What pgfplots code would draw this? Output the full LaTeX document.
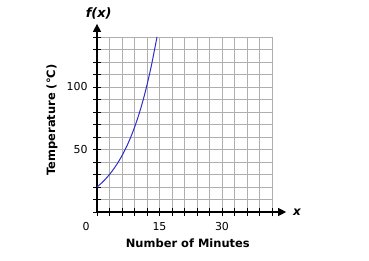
\documentclass[border=0pt]{standalone}
\usepackage{pgfplots}
\pgfplotsset{compat=1.18}
\usepackage{fontspec}
\setmainfont{DejaVu Sans}
\usetikzlibrary{arrows.meta}
\definecolor{curveblue}{RGB}{45,45,200}
\definecolor{gridgray}{RGB}{175,175,175}
\begin{document}
\begin{tikzpicture}[x=1bp,y=1bp]
\path[use as bounding box] (-97,-49) rectangle (272,212);
\begin{axis}[
  at={(0,0)}, anchor=south west, scale only axis,
  width=175bp, height=175bp,
  xmin=0, xmax=42, ymin=0, ymax=140,
  axis lines=left, axis line style={-, black, line width=1.2pt},
  clip=false,
  xtick={0,3,...,42},
  xticklabels={,,,,,15,,,,,30,,,,},
  ytick={0,10,...,140},
  yticklabels={,,,,,50,,,,,100,,,,},
  tick align=center, major tick length=8bp,
  tick style={black, line width=0.9pt},
  grid=major, grid style={gridgray, line width=0.6pt},
  /pgf/number format/assume math mode=true,
  ticklabel style={font=\fontsize{11}{13}\selectfont},
  xticklabel style={yshift=-3bp},
  yticklabel style={xshift=-2bp},
]
\addplot[curveblue, line width=1pt, smooth] coordinates {
(0,20) (1,22.9) (2,26.2) (3,30.0) (4,34.4) (5,39.4) (6,45.1) (7,51.6)
(8,59.1) (9,67.7) (10,77.5) (11,88.7) (12,101.6) (13,116.3) (14,133.1) (14.4,140)
};
\draw[black, line width=1.2pt, -{Triangle[length=8bp,width=8bp]}] (axis cs:42,0) -- (axis cs:45.4,0);
\draw[black, line width=1.2pt, -{Triangle[length=8bp,width=8bp]}] (axis cs:0,140) -- (axis cs:0,150.5);
\node[font=\fontsize{12}{13}\selectfont\bfseries\itshape, anchor=west] at (axis cs:46.2,0) {x};
\node[font=\fontsize{13}{15}\selectfont\bfseries\itshape] at (axis cs:0.4,159) {f(x)};
\node[font=\fontsize{11}{13}\selectfont] at (axis cs:-2.6,-11.5) {0};
\node[font=\fontsize{11.5}{13}\selectfont\bfseries] at (axis cs:21.8,-24.8) {Number of Minutes};
\node[font=\fontsize{11.5}{13}\selectfont\bfseries, rotate=90] at (axis cs:-10.8,73.6) {Temperature (°C)};
\end{axis}
\end{tikzpicture}
\end{document}
